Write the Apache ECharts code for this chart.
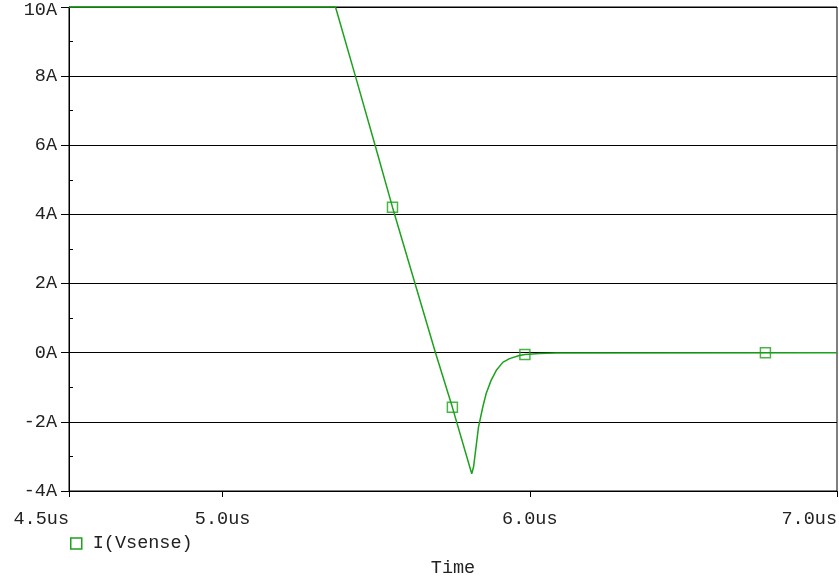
<!DOCTYPE html>
<html>
<head>
<meta charset="utf-8">
<script src="https://cdn.jsdelivr.net/npm/echarts@6/dist/echarts.min.js"></script>
<style>
html,body{margin:0;padding:0;background:#fff;}
#chart{width:839px;height:580px;}
</style>
</head>
<body>
<div id="chart"></div>
<script>
// Trace I(Vsense): time in us, current in A
const times    = [4.5, 5.3675, 5.433, 5.498, 5.553, 5.693, 5.748, 5.811, 5.817, 5.833, 5.847, 5.858, 5.874, 5.891, 5.912, 5.934, 5.966, 5.984, 6.032, 6.086, 7.0];
const currents = [10,  10,     7.98,  5.95,  4.21,  0.0,   -1.58, -3.5,  -3.30, -2.15, -1.57, -1.18, -0.80, -0.51, -0.28, -0.17, -0.08, -0.05, -0.02, -0.01, 0];
// Trace markers
const markerTimes    = [5.553, 5.748, 5.984, 6.767];
const markerCurrents = [4.21, -1.58, -0.05, 0.0];
// Axis ticks
const xTickValues = [4.5, 5.0, 6.0, 7.0];
const xTickLabels = ['4.5us', '5.0us', '6.0us', '7.0us'];
const seriesName = 'I(Vsense)';

const GREEN = '#1ca21c';
const FONT = 'Liberation Mono';
const TXT = '#222';
const FS = 18.5;
const Y_MAX = 10;

const chart = echarts.init(document.getElementById('chart'), null, {renderer: 'canvas'});
chart.setOption({
  animation: false,
  backgroundColor: '#fff',
  grid: {left: 69, right: 2, top: 7, bottom: 89, outerBoundsMode: 'none', containLabel: false,
         show: true, borderColor: '#000', borderWidth: 1, backgroundColor: 'transparent'},
  legend: {
    left: 70, top: 534, padding: 0, itemWidth: 11, itemHeight: 11,
    data: [{name: seriesName, icon: 'rect', itemStyle: {color: 'rgba(0,0,0,0)', borderColor: GREEN, borderWidth: 1.5}}],
    textStyle: {fontFamily: FONT, fontSize: FS, color: TXT, padding: [0, 0, 0, 6]},
    selectedMode: false
  },
  xAxis: {
    type: 'value', min: 4.5, max: 7.0,
    name: 'Time', nameLocation: 'middle', nameGap: 68,
    nameTextStyle: {fontFamily: FONT, fontSize: FS, color: TXT},
    axisLine: {show: true, onZero: false, lineStyle: {color: '#000', width: 1}},
    axisTick: {show: true, length: 6, customValues: xTickValues, lineStyle: {color: '#000'}},
    axisLabel: {
      customValues: xTickValues, margin: 19,
      fontFamily: FONT, fontSize: FS, color: TXT,
      alignMinLabel: 'right', alignMaxLabel: 'right',
      formatter: function (v) { const i = xTickValues.findIndex(t => Math.abs(t - v) < 1e-6); return i >= 0 ? xTickLabels[i] : ''; }
    },
    splitLine: {show: false}
  },
  yAxis: [{
    type: 'value', min: -4, max: Y_MAX, interval: 2,
    axisLine: {show: true, lineStyle: {color: '#000', width: 1}},
    axisTick: {show: true, length: 8, lineStyle: {color: '#000'}},
    axisLabel: {
      margin: 12, fontFamily: FONT, fontSize: FS, color: TXT,
      formatter: function (v) { return v === Y_MAX ? '{t|' + v + 'A}' : v + 'A'; },
      rich: {t: {fontFamily: FONT, fontSize: FS, color: TXT, padding: [7, 0, 0, 0]}}
    },
    splitLine: {show: true, lineStyle: {color: '#000', width: 1}}
  }, {
    type: 'value', min: -4, max: Y_MAX, interval: 1, position: 'left',
    axisLine: {show: false},
    axisTick: {show: true, inside: true, length: 4, lineStyle: {color: '#000'}},
    axisLabel: {show: false},
    splitLine: {show: false}
  }],
  series: [{
    name: seriesName, type: 'line', yAxisIndex: 0,
    data: times.map((t, i) => [t, currents[i]]),
    showSymbol: false, clip: false,
    lineStyle: {color: GREEN, width: 1.5},
    itemStyle: {color: GREEN},
    z: 3
  }, {
    name: seriesName, type: 'scatter', yAxisIndex: 0,
    data: markerTimes.map((t, i) => [t, markerCurrents[i]]),
    symbol: 'rect', symbolSize: 10,
    itemStyle: {color: 'rgba(0,0,0,0)', borderColor: GREEN, borderWidth: 1.5},
    z: 4
  }]
});
</script>
</body>
</html>
